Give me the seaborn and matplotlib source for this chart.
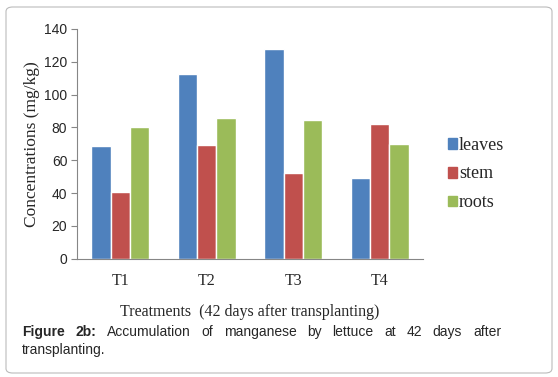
import pandas as pd
import matplotlib
matplotlib.use("Agg")
import matplotlib.pyplot as plt
from matplotlib.patches import FancyBboxPatch
import seaborn as sns

# data
treatments = ["T1", "T2", "T3", "T4"]
leaves = [68.6, 112.6, 128.0, 48.9]
stem = [40.8, 69.2, 52.4, 82.2]
roots = [80.2, 86.0, 84.8, 69.8]
parts = ["leaves", "stem", "roots"]
palette = ["#4F81BD", "#C0504D", "#9BBB59"]

df = pd.DataFrame({"Treatment": treatments, "leaves": leaves, "stem": stem, "roots": roots})
long_df = df.melt(id_vars="Treatment", var_name="Part", value_name="Conc")

sns.set_style("white")
plt.rcParams["font.family"] = ["Liberation Serif", "DejaVu Serif"]
sans = ["Liberation Sans", "DejaVu Sans"]

fig = plt.figure(figsize=(5.58, 3.77), dpi=100)
ax = fig.add_axes([77 / 558, 1 - 258.7 / 377, (423 - 77) / 558, (258.7 - 29) / 377])

sns.barplot(data=long_df, x="Treatment", y="Conc", hue="Part", hue_order=parts,
            palette=palette, width=0.67, saturation=1, ax=ax, legend=False)

ax.set_ylim(0, 140)
ax.set_xlim(-0.5, 3.5)
ax.set_yticks(range(0, 141, 20))
ax.set_xticks(range(4))
ax.set_xticklabels(treatments)
ax.set_xticks([-0.5, 0.5, 1.5, 2.5, 3.5], minor=True)
ax.tick_params(axis="x", which="major", length=0, pad=10, labelsize=11.5)
ax.tick_params(axis="x", which="minor", length=4, color="#868686", direction="out")
ax.tick_params(axis="y", length=4, color="#868686", direction="out", left=True, pad=3, labelsize=10)
for lab in ax.get_yticklabels():
    lab.set_family(sans)
for s in ["top", "right"]:
    ax.spines[s].set_visible(False)
for s in ["left", "bottom"]:
    ax.spines[s].set_color("#868686")
    ax.spines[s].set_linewidth(0.8)

ax.set_xlabel("Treatments  (42 days after transplanting)", fontsize=11.5, labelpad=11)
ax.set_ylabel("Concentrations (mg/kg)", fontsize=12.5, labelpad=3)

handles = [plt.Rectangle((0, 0), 1, 1, color=c) for c in palette]
fig.legend(handles, parts, loc="center left", bbox_to_anchor=(432 / 558, 1 - 174 / 377),
           frameon=False, fontsize=13, handlelength=0.5, handleheight=0.55,
           handletextpad=0.1, labelspacing=0.66)

# rounded frame around figure and caption
fig.patches.append(FancyBboxPatch((6 / 558, 4 / 377), 546 / 558, 366 / 377,
                                  boxstyle="round,pad=0,rounding_size=0.012",
                                  transform=fig.transFigure, fill=False,
                                  edgecolor="#BBBBBB", linewidth=0.8))

# justified caption line
words = [("Figure", "bold"), ("2b:", "bold"), ("Accumulation", "normal"), ("of", "normal"),
         ("manganese", "normal"), ("by", "normal"), ("lettuce", "normal"), ("at", "normal"),
         ("42", "normal"), ("days", "normal"), ("after", "normal")]
fig.canvas.draw()
renderer = fig.canvas.get_renderer()
texts = []
for w, wt in words:
    t = fig.text(0, 1 - 332 / 377, w, fontsize=10, fontweight=wt, family=sans, va="center")
    texts.append(t)
widths = [t.get_window_extent(renderer).width for t in texts]
x0, x1 = 22, 501
gap = (x1 - x0 - sum(widths)) / (len(words) - 1)
x = x0
for t, w in zip(texts, widths):
    t.set_x(x / 558)
    x += w + gap
fig.text(22 / 558, 1 - 350 / 377, "transplanting.", fontsize=10, family=sans, va="center")

fig.savefig("out.png", dpi=100)
